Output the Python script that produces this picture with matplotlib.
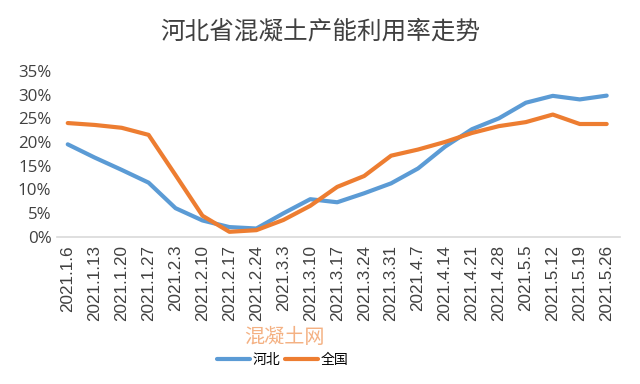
import matplotlib
matplotlib.use("Agg")
import matplotlib.pyplot as plt
from matplotlib.ticker import FuncFormatter

plt.rcParams['font.family'] = ['Noto Sans CJK SC', 'DejaVu Sans']

dates = ["2021.1.6", "2021.1.13", "2021.1.20", "2021.1.27", "2021.2.3", "2021.2.10",
         "2021.2.17", "2021.2.24", "2021.3.3", "2021.3.10", "2021.3.17", "2021.3.24",
         "2021.3.31", "2021.4.7", "2021.4.14", "2021.4.21", "2021.4.28", "2021.5.5",
         "2021.5.12", "2021.5.19", "2021.5.26"]
hebei = [19.5, 16.7, 14.1, 11.4, 6.0, 3.4, 2.0, 1.7, 4.9, 7.9, 7.25, 9.15, 11.25,
         14.4, 19.0, 22.7, 25.0, 28.3, 29.75, 29.0, 29.8]
national = [24.0, 23.6, 23.0, 21.5, 13.0, 4.4, 1.0, 1.35, 3.5, 6.5, 10.5, 12.8, 17.1,
            18.4, 20.0, 21.9, 23.35, 24.2, 25.8, 23.8, 23.8]

fig = plt.figure(figsize=(6.4, 3.84), dpi=100)
ax = fig.add_axes([0.089, 0.384, 0.88, 0.431])
x = range(len(dates))
ax.plot(x, hebei, color='#5B9BD5', lw=3, label='河北', solid_capstyle='round')
ax.plot(x, national, color='#ED7D31', lw=3, label='全国', solid_capstyle='round')

ax.set_ylim(0, 35)
ax.set_yticks(range(0, 36, 5))
ax.yaxis.set_major_formatter(FuncFormatter(lambda v, p: f"{int(v)}%"))
ax.set_xlim(-0.4, len(dates) - 0.5)
ax.set_xticks(list(x))
ax.set_xticklabels(dates, rotation=90, fontsize=12.3, color='#404040',
                   family='Liberation Sans')
ax.tick_params(axis='y', labelsize=12.2, colors='#404040', length=0, pad=4)
ax.tick_params(axis='x', length=0, pad=6)
for lab in ax.get_yticklabels():
    lab.set_family('Open Sans')
for s in ['top', 'right', 'left']:
    ax.spines[s].set_visible(False)
ax.spines['bottom'].set_color('#D9D9D9')
ax.spines['bottom'].set_linewidth(1.2)

fig.text(0.5, 0.917, '河北省混凝土产能利用率走势', ha='center', va='center',
         fontsize=17.7, color='#404040')
fig.text(0.444, 0.122, '混凝土网', ha='center', va='center', fontsize=14.5,
         color='#F4B183')
fig.legend(loc='center', bbox_to_anchor=(0.442, 0.062), ncol=2, frameon=False,
           fontsize=10, handlelength=2.4, columnspacing=0.3, handletextpad=0.2)

fig.savefig('out.png', dpi=100)
